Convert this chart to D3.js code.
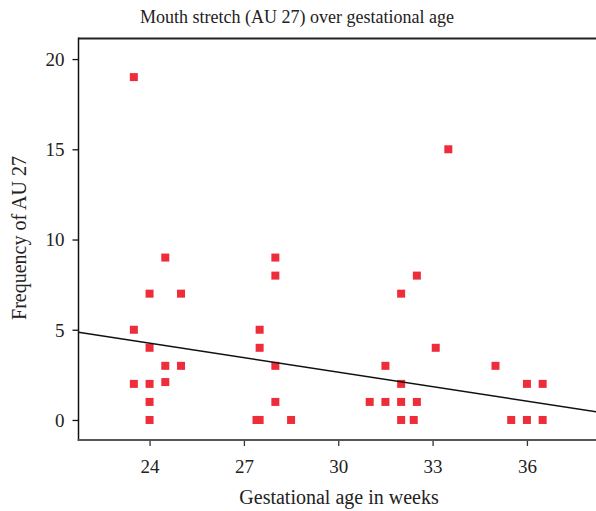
<!DOCTYPE html>
<html><head><meta charset="utf-8">
<script src="https://cdn.jsdelivr.net/npm/d3@7"></script>
<style>body{margin:0;background:#fff}svg{display:block}</style>
</head><body><svg id="c" width="596" height="511"></svg>
<script>
const weeks = [23.5,24.5,24,25,23.5,24,24.5,25,23.5,24,24.5,24,24,
  28,28,27.5,27.5,28,28,27.4,27.5,28.5,
  33.5,32.5,32,33.1,31.5,32,31,31.5,32,32.5,32,32.4,
  35,36,36.5,35.5,36,36.5];
const freq = [19,9,7,7,5,4,3,3,2,2,2.1,1,0,
  9,8,5,4,3,1,0,0,0,
  15,8,7,4,3,2,1,1,1,1,0,0,
  3,2,2,0,0,0];
const xTicks = [24,27,30,33,36];
const yTicks = [0,5,10,15,20];
const fitIntercept = 10.69, fitSlope = -0.268;

const FONT = '"Liberation Serif", "DejaVu Serif", serif';
const svg = d3.select("#c");
const L=78.5, T=38.5, R=598, B=440;
const x = d3.scaleLinear().domain([21.74, 38.26]).range([L, R]);
const y = d3.scaleLinear().domain([-1.11, 21.14]).range([B, T]);

// frame lines
svg.append("line").attr("x1",L).attr("x2",R).attr("y1",T).attr("y2",T).attr("stroke","#222").attr("stroke-width",2);
svg.append("line").attr("x1",L).attr("x2",L).attr("y1",T-1).attr("y2",B+1).attr("stroke","#111").attr("stroke-width",1.5);

// axes
const yAxis = d3.axisLeft(y).tickValues(yTicks).tickSize(6).tickPadding(8);
const gy = svg.append("g").attr("transform",`translate(${L},0)`).call(yAxis);
gy.select(".domain").remove();
gy.selectAll("line").attr("stroke","#111").attr("stroke-width",1.3);
gy.selectAll("text").style("font-family",FONT).style("font-size","19px").attr("fill","#222").attr("dy","0.34em");

const xAxis = d3.axisBottom(x).tickValues(xTicks).tickSize(6).tickPadding(14);
const gx = svg.append("g").attr("transform",`translate(0,${B})`).call(xAxis);
gx.select(".domain").remove();
gx.selectAll("line").attr("stroke","#333").attr("stroke-width",1.3);
gx.selectAll("text").style("font-family",FONT).style("font-size","19px").attr("fill","#222");
svg.append("line").attr("x1",L-0.75).attr("x2",R).attr("y1",B).attr("y2",B).attr("stroke","#555").attr("stroke-width",2);

// points
const s = 8;
svg.append("g").selectAll("rect").data(weeks.map((w,i)=>[w,freq[i]])).join("rect")
  .attr("x",d=>x(d[0])-s/2).attr("y",d=>y(d[1])-s/2).attr("width",s).attr("height",s)
  .attr("fill","#ee2d3b");

// regression line
const xd = x.domain();
svg.append("line")
  .attr("x1",x(xd[0])).attr("y1",y(fitIntercept+fitSlope*xd[0]))
  .attr("x2",x(xd[1])).attr("y2",y(fitIntercept+fitSlope*xd[1]))
  .attr("stroke","#111").attr("stroke-width",1.5);

// titles
const tt = (t)=>t.style("font-family",FONT).attr("fill","#222").attr("text-anchor","middle");
svg.append("text").attr("x",297).attr("y",23).call(tt).style("font-size","18px").text("Mouth stretch (AU 27) over gestational age");
svg.append("text").attr("x",339).attr("y",504).call(tt).style("font-size","20px").text("Gestational age in weeks");
svg.append("text").attr("transform","translate(26,238) rotate(-90)").call(tt).style("font-size","20px").text("Frequency of AU 27");
</script></body></html>
